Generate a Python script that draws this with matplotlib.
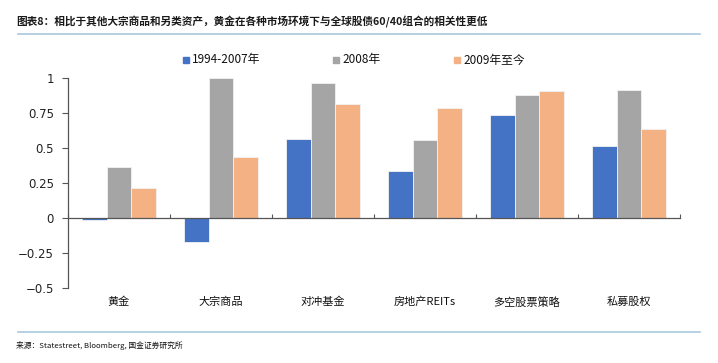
import matplotlib
matplotlib.use("Agg")
import matplotlib.pyplot as plt
import numpy as np
from matplotlib.lines import Line2D
from matplotlib.patches import Rectangle

plt.rcParams['font.family'] = ['Noto Sans CJK SC', 'DejaVu Sans']

categories = ['黄金', '大宗商品', '对冲基金', '房地产REITs', '多空股票策略', '私募股权']
series_names = ['1994-2007年', '2008年', '2009年至今']
s1 = [-0.01, -0.17, 0.57, 0.34, 0.74, 0.52]
s2 = [0.37, 1.00, 0.97, 0.56, 0.88, 0.92]
s3 = [0.22, 0.44, 0.82, 0.79, 0.91, 0.64]
yticks = [-0.5, -0.25, 0, 0.25, 0.5, 0.75, 1]
ytick_labels = ['−0.5', '−0.25', '0', '0.25', '0.5', '0.75', '1']
colors = ['#4472C4', '#A5A5A5', '#F4B183']

title = '图表8：相比于其他大宗商品和另类资产，黄金在各种市场环境下与全球股债60/40组合的相关性更低'
source = '来源：Statestreet, Bloomberg, 国金证券研究所'

fig = plt.figure(figsize=(7.18, 3.63), dpi=100)
ax = fig.add_axes([68/718, 1-288.3/363, 612/718, 210/363])

x = np.arange(len(categories))
w = 0.24
for i, (vals, c) in enumerate(zip([s1, s2, s3], colors)):
    ax.bar(x + (i-1)*w, vals, width=w, color=c, edgecolor='#F2F2F2', linewidth=0.6, zorder=2)

ax.set_xlim(-0.5, len(categories)-0.5)
ax.set_ylim(-0.5, 1)
ax.set_yticks(yticks)
ax.set_yticklabels(ytick_labels, fontsize=8.5, color='#222222', family=['DejaVu Sans'])
ax.tick_params(axis='y', direction='out', length=4, width=0.8, color='#555555', pad=6)

for s in ['top', 'right']:
    ax.spines[s].set_visible(False)
ax.spines['left'].set_color('#555555')
ax.spines['left'].set_linewidth(0.9)
ax.spines['bottom'].set_position(('data', 0))
ax.spines['bottom'].set_color('#555555')
ax.spines['bottom'].set_linewidth(0.9)
ax.spines['bottom'].set_zorder(3)

ax.set_xticks(np.arange(len(categories)+1) - 0.5)
ax.set_xticklabels([])
ax.tick_params(axis='x', direction='in', length=3, width=0.8, color='#555555')

for xi, cat in zip(x, categories):
    ax.text(xi, -0.065, cat, transform=ax.get_xaxis_transform(), ha='center', va='center',
            fontsize=8, color='#111111')

# legend
leg_x = [186, 336, 457]
for hx, c, name in zip(leg_x, colors, series_names):
    fig.patches.append(Rectangle((hx/718 - 3/718, 1-63/363), 6/718, 6/363,
                                 transform=fig.transFigure, color=c))
    fig.text((hx+6)/718, 1-60/363, name, fontsize=8.5, va='center', ha='left', color='#111111')

fig.text(16/718, 1-22/363, title, fontsize=7.7, fontweight='bold', color='#1a1a1a', va='center', ha='left')
fig.add_artist(Line2D([18/718, 700/718], [1-34/363, 1-34/363], color='#A9C7DD', linewidth=1.2))
fig.add_artist(Line2D([18/718, 700/718], [1-332/363, 1-332/363], color='#A9C7DD', linewidth=1.2))
fig.text(16/718, 1-345/363, source, fontsize=5.6, color='#111111', va='center', ha='left')

fig.savefig('out.png', dpi=100)
